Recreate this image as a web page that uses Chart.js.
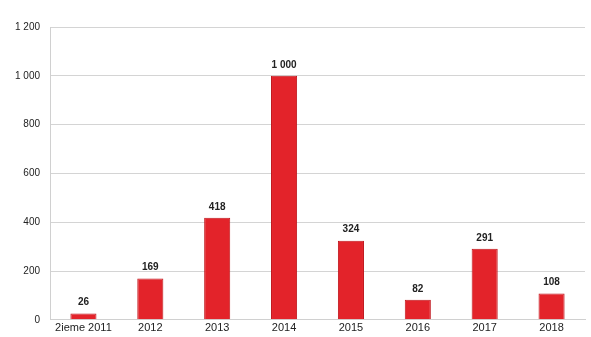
<!DOCTYPE html>
<html>
<head>
<meta charset="utf-8">
<script src="https://cdn.jsdelivr.net/npm/chart.js@4.4.0/dist/chart.umd.min.js"></script>
<style>
  html, body { margin: 0; padding: 0; background: #fff; }
  #wrap { width: 591px; height: 337px; position: relative; }
</style>
</head>
<body>
<div id="wrap"><canvas id="chart"></canvas></div>
<script>
const categories = ["2ieme 2011", "2012", "2013", "2014", "2015", "2016", "2017", "2018"];
const values = [26, 169, 418, 1000, 324, 82, 291, 108];
const yTicks = [0, 200, 400, 600, 800, 1000, 1200];

function fmt(n) {
  return String(n).replace(/\B(?=(\d{3})+(?!\d))/g, " ");
}

// draws the numbers above each bar
const valueLabels = {
  id: "valueLabels",
  afterDatasetsDraw(chart) {
    const ctx = chart.ctx;
    const meta = chart.getDatasetMeta(0);
    ctx.save();
    ctx.font = "bold 10px 'Liberation Sans', Arial, sans-serif";
    ctx.fillStyle = "#222";
    ctx.textAlign = "center";
    ctx.textBaseline = "bottom";
    meta.data.forEach((bar, i) => {
      ctx.fillText(fmt(values[i]), bar.x, bar.y - 6);
    });
    ctx.restore();
  }
};

const ctx = document.getElementById("chart").getContext("2d");
new Chart(ctx, {
  type: "bar",
  data: {
    labels: categories,
    datasets: [{
      data: values,
      backgroundColor: "#e3232a",
      borderColor: "#c0161c",
      borderWidth: 1,
      categoryPercentage: 1,
      barPercentage: 0.39
    }]
  },
  options: {
    responsive: true,
    maintainAspectRatio: false,
    animation: false,
    layout: { padding: { top: 27, right: 6, bottom: 0, left: 0 } },
    plugins: {
      legend: { display: false },
      tooltip: { enabled: false }
    },
    scales: {
      x: {
        grid: { display: false, drawTicks: false },
        border: { color: "#d0d0d0" },
        ticks: {
          color: "#222",
          font: { size: 11, family: "'Liberation Sans', Arial, sans-serif" },
          padding: 2,
          maxRotation: 0
        }
      },
      y: {
        min: 0,
        max: 1200,
        afterFit(scale) { scale.width = 50; },
        afterBuildTicks(scale) { scale.ticks = yTicks.map(v => ({ value: v })); },
        grid: { color: "#d4d4d4", drawTicks: false },
        border: { color: "#d0d0d0" },
        ticks: {
          color: "#222",
          font: { size: 10, family: "'Liberation Sans', Arial, sans-serif" },
          padding: 10,
          callback: v => fmt(v)
        }
      }
    }
  },
  plugins: [valueLabels]
});
</script>
</body>
</html>
